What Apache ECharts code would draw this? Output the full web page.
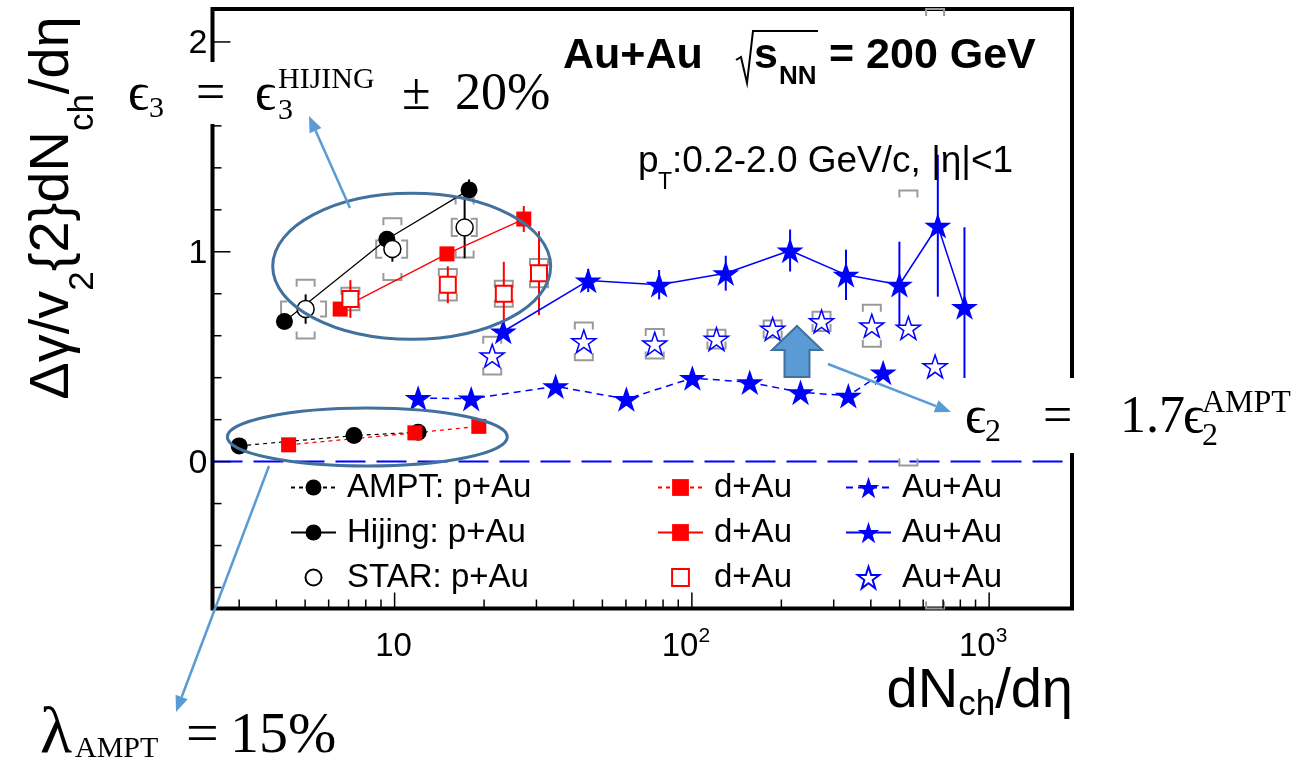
<!DOCTYPE html>
<html><head><meta charset="utf-8">
<script src="https://cdn.jsdelivr.net/npm/echarts@6/dist/echarts.min.js"></script>
<style>html,body{margin:0;padding:0;background:#fff}#c{width:1314px;height:762px}</style>
</head><body><div id="c"></div>
<script>
// ---------------- axis ranges & ticks ----------------
const X_MIN = 2.44, X_MAX = 1900, Y_MIN = -0.7, Y_MAX = 2.157;
const xMajorTicks = [10, 100, 1000];
const xMinorTicks = [3,4,5,6,7,8,9,20,30,40,50,60,70,80,90,200,300,400,500,600,700,800,900];
const xTickLabelBase = ['10', '10', '10'];
const xTickLabelExp = ['', '2', '3'];
const yMajorTicks = [0, 1, 2];
const yMinorTicks = [-0.6,-0.4,-0.2,0.2,0.4,0.6,0.8,1.2,1.4,1.6,1.8];
const yTickLabels = ['0', '1', '2'];

// ---------------- p+Au ----------------
const amptPAuX = [3.0, 7.3, 12.0];
const amptPAuY = [0.075, 0.124, 0.14];
const hijPAuX = [4.26, 9.42, 17.8];
const hijPAuY = [0.668, 1.06, 1.295];
const hijPAuErr = [0, 0, 0.05];
const starPAuX = [5.02, 9.83, 17.2];
const starPAuY = [0.727, 1.013, 1.116];
const starPAuErr = [0.07, 0.06, 0.147];
const starPAuSys = [0.14, 0.147, 0.143];
const starPAuSys2 = [0.036, 0.041, 0.041];
const starPAuSysXLo = [4.15, 8.67, 15.57];
const starPAuSysXHi = [5.88, 11.02, 18.9];

// ---------------- d+Au ----------------
const amptDAuX = [4.4, 11.7, 19.2];
const amptDAuY = [0.08, 0.137, 0.168];
const hijDAuX = [6.56, 15.0, 27.2];
const hijDAuY = [0.727, 0.99, 1.156];
const hijDAuErr = [0, 0, 0.062];
const starDAuX = [7.1, 15.1, 23.3, 30.6];
const starDAuY = [0.775, 0.843, 0.8, 0.898];
const starDAuErr = [0.09, 0.088, 0.152, 0.2];
const starDAuSys = [0.054, 0.075, 0.062, 0.067];

// ---------------- Au+Au ----------------
const amptAuAuX = [12.0, 18.1, 34.8, 60.2, 100.4, 156.6, 232, 336, 440];
const amptAuAuY = [0.303, 0.3, 0.359, 0.298, 0.398, 0.378, 0.33, 0.314, 0.425];
const hijAuAuX = [23.2, 44.8, 77.6, 130, 214, 330, 499, 672, 826];
const hijAuAuY = [0.62, 0.863, 0.843, 0.898, 1.006, 0.89, 0.843, 1.124, 0.737];
const hijAuAuErr = [0.03, 0.055, 0.07, 0.083, 0.1, 0.12, 0.205, 0.338, 0.38];
const starAuAuX = [21.3, 43.3, 75, 121, 187, 273, 403, 535, 658];
const starAuAuY = [0.505, 0.573, 0.562, 0.584, 0.632, 0.668, 0.648, 0.637, 0.454];
const starAuAuSys = [0.09, 0.09, 0.07, 0.045, 0.04, 0.046, 0.1, 0.655, 1.75];

// ---------------- styling ----------------
const SANS = '"Liberation Sans", Arial, Helvetica, sans-serif';
const SERIF = '"Liberation Serif", "DejaVu Serif", serif';
const STAR = 'path://M50,0 L61.8,35.3 L99,35.3 L69,57.1 L80.4,92.7 L50,70.6 L19.6,92.7 L31,57.1 L1,35.3 L38.2,35.3 Z';
const RED = '#ff0000', BLUE = '#0000ff', BLACK = '#000000', GRAY = '#9a9a9a';
const ANN = '#5B9BD5', ELL = '#41719C';

function pts(xs, ys) { return xs.map((x, i) => [x, ys[i]]); }
function errData(xs, ys, es) { return xs.map((x, i) => [x, ys[i] - es[i], ys[i] + es[i], es[i]]).filter(d => d[3] > 0); }
function sysData(xs, ys, ss) { return xs.map((x, i) => [x, ys[i] - ss[i], ys[i] + ss[i]]); }

function mk(name, xs, ys, o) {
  return {
    type: 'line', name, z: o.z || 6, silent: true, clip: false,
    data: pts(xs, ys),
    symbol: o.symbol, symbolSize: o.size, symbolKeepAspect: true, showSymbol: true, showAllSymbol: true,
    lineStyle: { color: o.line ? o.color : 'rgba(0,0,0,0)', width: o.lw || 1.3, type: o.dash || 'solid' },
    itemStyle: o.open ? { color: '#fff', borderColor: o.color, borderWidth: o.bw || 1.6 }
                      : { color: o.color, borderColor: o.color, borderWidth: 0 },
    emphasis: { disabled: true }
  };
}

function errSeries(data, color) {
  return {
    type: 'custom', silent: true, clip: false, z: 4, data,
    renderItem: (p, api) => {
      const a = api.coord([api.value(0), Math.max(api.value(1), Y_MIN)]);
      const b = api.coord([api.value(0), Math.min(api.value(2), Y_MAX)]);
      return { type: 'line', shape: { x1: a[0], y1: a[1], x2: b[0], y2: b[1] }, style: { stroke: color, lineWidth: 2 } };
    }
  };
}

function sysSeries(data) {
  return {
    type: 'custom', silent: true, clip: false, z: 3, data,
    renderItem: (p, api) => {
      const lo = Math.max(api.value(1), Y_MIN), hi = Math.min(api.value(2), Y_MAX);
      const pl = api.coord([api.value(0), lo]), ph = api.coord([api.value(0), hi]);
      const w = 9, leg = Math.min(7, (pl[1] - ph[1]) / 2), cx = pl[0];
      const st = { stroke: GRAY, lineWidth: 2, fill: 'none' };
      return { type: 'group', children: [
        { type: 'polyline', shape: { points: [[cx - w, ph[1] + leg], [cx - w, ph[1]], [cx + w, ph[1]], [cx + w, ph[1] + leg]] }, style: st },
        { type: 'polyline', shape: { points: [[cx - w, pl[1] - leg], [cx - w, pl[1]], [cx + w, pl[1]], [cx + w, pl[1] - leg]] }, style: st }
      ] };
    }
  };
}

function sideSeries(data) {
  return {
    type: 'custom', silent: true, clip: false, z: 3, data,
    renderItem: (p, api) => {
      const a = api.coord([api.value(0), api.value(2)]);
      const b = api.coord([api.value(1), api.value(3)]);
      const s = 6, st = { stroke: GRAY, lineWidth: 2, fill: 'none' };
      return { type: 'group', children: [
        { type: 'polyline', shape: { points: [[a[0] + s, b[1]], [a[0], b[1]], [a[0], a[1]], [a[0] + s, a[1]]] }, style: st },
        { type: 'polyline', shape: { points: [[b[0] - s, b[1]], [b[0], b[1]], [b[0], a[1]], [b[0] - s, a[1]]] }, style: st }
      ] };
    }
  };
}

const tickSeries = [
  { type: 'custom', silent: true, clip: false, z: 8,
    data: xMajorTicks.map(v => [v, Y_MIN, 1]).concat(xMinorTicks.map(v => [v, Y_MIN, 0])),
    renderItem: (p, api) => {
      const c = api.coord([api.value(0), Y_MIN]);
      const len = api.value(2) ? 16 : 9;
      return { type: 'line', shape: { x1: c[0], y1: c[1], x2: c[0], y2: c[1] - len }, style: { stroke: '#000', lineWidth: 1.5 } };
    } },
  { type: 'custom', silent: true, clip: false, z: 8,
    data: yMajorTicks.map(v => [X_MIN, v, 1]).concat(yMinorTicks.map(v => [X_MIN, v, 0])),
    renderItem: (p, api) => {
      const c = api.coord([X_MIN, api.value(1)]);
      const len = api.value(2) ? 18 : 9;
      return { type: 'line', shape: { x1: c[0], y1: c[1], x2: c[0] + len, y2: c[1] }, style: { stroke: '#000', lineWidth: 1.5 } };
    } },
  { type: 'custom', silent: true, clip: false, z: 8,
    data: xMajorTicks.map((v, i) => [v, Y_MIN, i]),
    renderItem: (p, api) => {
      const i = api.value(2);
      const c = api.coord([api.value(0), Y_MIN]);
      const exp = xTickLabelExp[i];
      const text = exp ? '{m|' + xTickLabelBase[i] + '}{s|' + exp + '}' : '{m|' + xTickLabelBase[i] + '}';
      return { type: 'text', x: c[0] - (exp ? 6 : 1), y: c[1] + 38,
        style: { text, align: 'center', verticalAlign: 'middle', fill: '#000', fontSize: 33, fontFamily: SANS, lineHeight: 42,
          rich: { m: { fontSize: 33, fontFamily: SANS, lineHeight: 42, fill: '#000' },
                  s: { fontSize: 21, fontFamily: SANS, lineHeight: 20, verticalAlign: 'top', fill: '#000' } } } };
    } },
  { type: 'custom', silent: true, clip: false, z: 8,
    data: yMajorTicks.map((v, i) => [X_MIN, v, i]),
    renderItem: (p, api) => {
      const c = api.coord([X_MIN, api.value(1)]);
      return { type: 'text', x: c[0] - 5, y: c[1] + 2,
        style: { text: yTickLabels[api.value(2)], align: 'right', verticalAlign: 'middle', fill: '#000', fontSize: 34, fontFamily: SANS } };
    } }
];

const zeroLine = {
  type: 'line', name: 'zero', silent: true, z: 2, symbol: 'none',
  data: [[X_MIN, 0], [X_MAX, 0]],
  lineStyle: { color: BLUE, width: 2, type: [30, 11] }
};

const series = [
  zeroLine,
  sysSeries(sysData(starPAuX, starPAuY, starPAuSys)),
  sideSeries(starPAuX.map((x, i) => [starPAuSysXLo[i], starPAuSysXHi[i], starPAuY[i] - starPAuSys2[i], starPAuY[i] + starPAuSys2[i]])),
  sysSeries(sysData(starDAuX, starDAuY, starDAuSys)),
  sysSeries(sysData(starAuAuX, starAuAuY, starAuAuSys)),
  errSeries(errData(hijPAuX, hijPAuY, hijPAuErr), BLACK),
  errSeries(errData(starPAuX, starPAuY, starPAuErr), BLACK),
  errSeries(errData(hijDAuX, hijDAuY, hijDAuErr), RED),
  errSeries(errData(starDAuX, starDAuY, starDAuErr), RED),
  errSeries(errData(hijAuAuX, hijAuAuY, hijAuAuErr), BLUE),
  mk('AMPT: p+Au', amptPAuX, amptPAuY, { symbol: 'circle', size: 17, color: BLACK, line: 1, dash: [4, 4], lw: 1.2 }),
  mk('Hijing: p+Au', hijPAuX, hijPAuY, { symbol: 'circle', size: 17, color: BLACK, line: 1, lw: 1.2 }),
  mk('STAR: p+Au', starPAuX, starPAuY, { symbol: 'circle', size: 17, color: BLACK, open: 1, bw: 1.5 }),
  mk('AMPT: d+Au', amptDAuX, amptDAuY, { symbol: 'rect', size: 15, color: RED, line: 1, dash: [4, 4], lw: 1.3 }),
  mk('Hijing: d+Au', hijDAuX, hijDAuY, { symbol: 'rect', size: 15, color: RED, line: 1, lw: 1.3 }),
  mk('STAR: d+Au', starDAuX, starDAuY, { symbol: 'rect', size: 16, color: RED, open: 1, bw: 2 }),
  mk('AMPT: Au+Au', amptAuAuX, amptAuAuY, { symbol: STAR, size: 27, color: BLUE, line: 1, dash: [7, 5], lw: 1.5 }),
  mk('Hijing: Au+Au', hijAuAuX, hijAuAuY, { symbol: STAR, size: 27, color: BLUE, line: 1, lw: 1.5 }),
  mk('STAR: Au+Au', starAuAuX, starAuAuY, { symbol: STAR, size: 24, color: BLUE, open: 1, bw: 1.5 })
].concat(tickSeries);

// ---------------- legend ----------------
function legendCol(names, left, itemHeight, short) {
  return {
    data: names, left, top: 471, orient: 'vertical', padding: 0,
    itemWidth: 45, itemHeight, itemGap: 12, selectedMode: false,
    formatter: short ? (n => n.split(': ')[1]) : (n => n),
    textStyle: { fontSize: 33, fontFamily: SANS, color: '#000', padding: [0, 0, 0, 6] }
  };
}

// ---------------- annotation graphics ----------------
function T(x, base, text, size, o) {
  o = o || {};
  return { type: 'text', z: 110, x, y: base - 0.27 * size,
    style: { text, fontSize: size, fontFamily: o.serif ? SERIF : SANS, fontWeight: o.bold ? 'bold' : 'normal',
             fill: '#000', align: o.align || 'left', verticalAlign: 'middle' } };
}
function arrow(x1, y1, x2, y2) {
  const a = Math.atan2(y2 - y1, x2 - x1), L = 16, W = 6.5;
  const bx = x2 - L * Math.cos(a), by = y2 - L * Math.sin(a);
  return [
    { type: 'line', z: 106, shape: { x1, y1, x2: bx, y2: by }, style: { stroke: ANN, lineWidth: 2.5 } },
    { type: 'polygon', z: 106, shape: { points: [[x2, y2], [bx - W * Math.sin(a), by + W * Math.cos(a)], [bx + W * Math.sin(a), by - W * Math.cos(a)]] }, style: { fill: ANN } }
  ];
}

const graphics = [
  // title
  T(563, 68, 'Au+Au', 43, { bold: 1 }),
  { type: 'polyline', z: 110, shape: { points: [[736, 60], [741, 57], [747, 83], [753, 31], [818, 31]] }, style: { stroke: '#000', lineWidth: 2, fill: 'none' } },
  T(754, 68, 's', 43, { bold: 1 }),
  T(779, 84, 'NN', 26, { bold: 1 }),
  T(829, 68, '= 200 GeV', 43, { bold: 1 }),
  T(638, 172, 'p', 37),
  T(658, 189, 'T', 23),
  T(672, 172, ':0.2-2.0 GeV/c, |η|<1', 37),
  // axis titles
  { type: 'text', z: 110, x: 53, y: 208, rotation: Math.PI / 2,
    style: { text: '{m|Δγ/v}{s|2}{2}{m|dN}{s|ch}{m|/dη}', fontSize: 56, fontFamily: SANS, lineHeight: 96, fill: '#000',
      align: 'center', verticalAlign: 'middle',
      rich: { m: { fontSize: 56, fontFamily: SANS, lineHeight: 96, fill: '#000' },
              s: { fontSize: 35, fontFamily: SANS, lineHeight: 30, verticalAlign: 'bottom', fill: '#000' } } } },
  { type: 'text', z: 110, x: 1073, y: 692,
    style: { text: '{m|dN}{s|ch}{m|/dη}', fontSize: 56, fontFamily: SANS, lineHeight: 62, fill: '#000',
      align: 'right', verticalAlign: 'middle',
      rich: { m: { fontSize: 56, fontFamily: SANS, lineHeight: 62, fill: '#000' },
              s: { fontSize: 35, fontFamily: SANS, lineHeight: 30, verticalAlign: 'bottom', fill: '#000' } } } },
  // white label boxes
  { type: 'rect', z: 100, shape: { x: 118, y: 62, width: 440, height: 62 }, style: { fill: '#fff' } },
  { type: 'rect', z: 100, shape: { x: 945, y: 378, width: 369, height: 75 }, style: { fill: '#fff' } },
  // eps3 label
  T(128, 109, 'ϵ', 52, { serif: 1 }),
  T(149, 117, '3', 30, { serif: 1 }),
  T(196, 109, '=', 52, { serif: 1 }),
  T(255, 109, 'ϵ', 52, { serif: 1 }),
  T(278, 88, 'HIJING', 30, { serif: 1 }),
  T(278, 119, '3', 30, { serif: 1 }),
  T(402, 109, '±', 52, { serif: 1 }),
  T(455, 109, '20%', 52, { serif: 1 }),
  // eps2 label
  T(965, 432, 'ϵ', 52, { serif: 1 }),
  T(985, 441, '2', 32, { serif: 1 }),
  T(1043, 432, '=', 52, { serif: 1 }),
  T(1120, 432, '1.7', 52, { serif: 1 }),
  T(1183, 432, 'ϵ', 52, { serif: 1 }),
  T(1202, 412, 'AMPT', 32, { serif: 1 }),
  T(1202, 445, '2', 32, { serif: 1 }),
  // lambda label
  T(40, 752, 'λ', 66, { serif: 1 }),
  T(75, 757, 'AMPT', 30, { serif: 1 }),
  T(186, 752, '=', 58, { serif: 1 }),
  T(230, 752, '15%', 58, { serif: 1 }),
  // ellipses
  { type: 'ellipse', z: 105, shape: { cx: 411.7, cy: 266.3, rx: 139, ry: 73 }, style: { fill: 'none', stroke: ELL, lineWidth: 3 } },
  { type: 'ellipse', z: 105, shape: { cx: 367.3, cy: 437, rx: 140, ry: 29 }, style: { fill: 'none', stroke: ELL, lineWidth: 3 } },
  // block arrow
  { type: 'polygon', z: 105, shape: { points: [[797, 326], [822, 350], [809.5, 350], [809.5, 377], [784.5, 377], [784.5, 350], [772, 350]] },
    style: { fill: ANN, stroke: ELL, lineWidth: 2 } }
].concat(arrow(350, 208, 309, 116), arrow(269, 466, 176, 712), arrow(828, 364, 951, 412));

const option = {
  animation: false,
  backgroundColor: '#fff',
  grid: { left: 212.5, right: 242, top: 9, bottom: 153.5, show: true, borderColor: '#000', borderWidth: 4,
          backgroundColor: 'transparent', containLabel: false, outerBoundsMode: 'none' },
  xAxis: { type: 'log', logBase: 10, min: X_MIN, max: X_MAX,
           axisLine: { show: false }, axisTick: { show: false }, axisLabel: { show: false },
           splitLine: { show: false }, minorTick: { show: false }, minorSplitLine: { show: false } },
  yAxis: { type: 'value', min: Y_MIN, max: Y_MAX,
           axisLine: { show: false }, axisTick: { show: false }, axisLabel: { show: false },
           splitLine: { show: false }, minorTick: { show: false }, minorSplitLine: { show: false } },
  legend: [
    legendCol(['AMPT: p+Au', 'Hijing: p+Au', 'STAR: p+Au'], 290, 20, false),
    legendCol(['AMPT: d+Au', 'Hijing: d+Au', 'STAR: d+Au'], 657, 21, true),
    legendCol(['AMPT: Au+Au', 'Hijing: Au+Au', 'STAR: Au+Au'], 845, 27, true)
  ],
  series,
  graphic: { elements: graphics }
};

const chart = echarts.init(document.getElementById('c'), null, { renderer: 'canvas' });
chart.setOption(option);
</script>
</body></html>
